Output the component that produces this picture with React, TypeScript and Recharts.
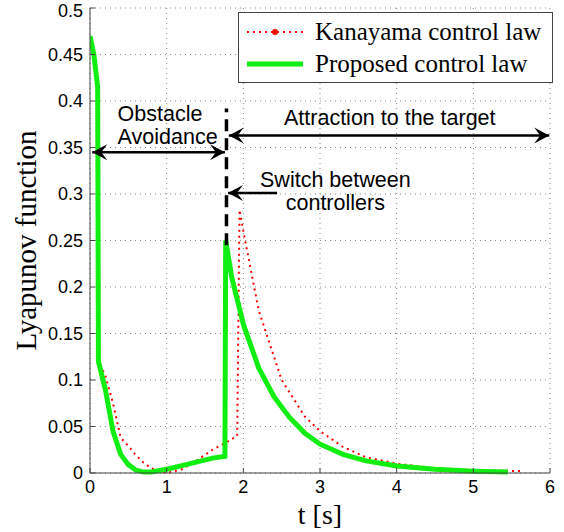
import { LineChart, Line, XAxis, YAxis, CartesianGrid, ReferenceLine, ReferenceDot } from 'recharts'

// Proposed control law, Lyapunov function vs time
const proposedT = [0, 0.05, 0.1, 0.11, 0.2, 0.3, 0.4, 0.5, 0.6, 0.7, 0.8, 1.0, 1.2, 1.4, 1.6, 1.76, 1.77, 1.85, 2.0, 2.2, 2.4, 2.6, 2.8, 3.0, 3.3, 3.6, 4.0, 4.5, 5.0, 5.45]
const proposedV = [0.47, 0.45, 0.415, 0.12, 0.09, 0.045, 0.02, 0.009, 0.003, 0.001, 0.001, 0.004, 0.008, 0.012, 0.016, 0.018, 0.25, 0.21, 0.16, 0.113, 0.082, 0.06, 0.043, 0.031, 0.02, 0.013, 0.0075, 0.004, 0.002, 0.001]

// Kanayama control law
const kanayamaT = [0, 0.05, 0.1, 0.11, 0.2, 0.3, 0.4, 0.5, 0.6, 0.7, 0.8, 0.9, 1.0, 1.2, 1.4, 1.6, 1.8, 1.92, 1.95, 2.0, 2.2, 2.5, 2.8, 3.0, 3.3, 3.6, 4.0, 4.5, 5.0, 5.65]
const kanayamaV = [0.47, 0.45, 0.415, 0.12, 0.105, 0.075, 0.038, 0.029, 0.019, 0.011, 0.005, 0.002, 0.0, 0.004, 0.014, 0.025, 0.034, 0.04, 0.283, 0.26, 0.175, 0.1, 0.061, 0.045, 0.028, 0.017, 0.01, 0.005, 0.003, 0.002]

const xTicks = [0, 1, 2, 3, 4, 5, 6]
const yTicks = [0, 0.05, 0.1, 0.15, 0.2, 0.25, 0.3, 0.35, 0.4, 0.45, 0.5]
const yTickLabels = ['0', '0.05', '0.1', '0.15', '0.2', '0.25', '0.3', '0.35', '0.4', '0.45', '0.5']

const proposed = proposedT.map((t, i) => ({ t, v: proposedV[i] }))
const kanayama = kanayamaT.map((t, i) => ({ t, v: kanayamaV[i] }))

const SWITCH_T = 1.78
const RED = '#ff0000'
const GREEN = '#11ee11'
const AXIS = '#444'
const SANS = 'Liberation Sans, Arial, sans-serif'
const SERIF = 'Liberation Serif, Times New Roman, serif'

function head(x: number, y: number, dir: number) {
  // dir = -1 points left, 1 points right
  const L = 15, H = 8, N = 9
  return `${x},${y} ${x - dir * L},${y - H} ${x - dir * N},${y} ${x - dir * L},${y + H}`
}

function Arrow(props: any) {
  const { x1, y1, x2, y2, both } = props
  const left = Math.min(x1, x2)
  const right = Math.max(x1, x2)
  return (
    <g>
      <line x1={left} y1={y1} x2={right} y2={y2} stroke="#000" strokeWidth={2.5} />
      <polygon points={head(left, y1, -1)} fill="#000" />
      {both && <polygon points={head(right, y2, 1)} fill="#000" />}
    </g>
  )
}

const note = (text: string, anchor: 'start' | 'middle') => (props: any) => (
  <text x={props.cx} y={props.cy} textAnchor={anchor} dominantBaseline="central" fontFamily={SANS} fontSize={21.5} fill="#000">
    {text}
  </text>
)

function LegendBox() {
  return (
    <div style={{ position: 'absolute', left: 238, top: 12, width: 313, height: 69, border: `1px solid ${AXIS}`, background: '#fff', fontFamily: SERIF, fontSize: 25, color: '#000' }}>
      <div style={{ display: 'flex', alignItems: 'center', height: 34, marginTop: 2 }}>
        <svg width={64} height={20} style={{ marginLeft: 6 }}>
          <line x1={2} y1={10} x2={58} y2={10} stroke={RED} strokeWidth={2} strokeDasharray="2 4" />
          <circle cx={30} cy={10} r={3} fill={RED} />
        </svg>
        <span style={{ marginLeft: 6 }}>Kanayama control law</span>
      </div>
      <div style={{ display: 'flex', alignItems: 'center', height: 30 }}>
        <svg width={64} height={20} style={{ marginLeft: 6 }}>
          <line x1={2} y1={10} x2={58} y2={10} stroke={GREEN} strokeWidth={5} />
        </svg>
        <span style={{ marginLeft: 6 }}>Proposed control law</span>
      </div>
    </div>
  )
}

export default function App() {
  return (
    <div style={{ position: 'absolute', left: 0, top: 0, width: 564, height: 532, background: '#fff' }}>
      <LineChart width={564} height={532} margin={{ top: 8, right: 14, bottom: 0, left: 0 }}>
        <CartesianGrid stroke="#888" strokeDasharray="1 4" />
        <XAxis
          dataKey="t"
          type="number"
          domain={[0, 6]}
          ticks={xTicks}
          allowDataOverflow
          height={59}
          stroke={AXIS}
          tickSize={-5}
          tickMargin={12}
          tick={{ fill: '#000', fontSize: 18, fontFamily: SANS }}
          label={{ value: 't [s]', position: 'insideBottom', offset: 8, fill: '#000', fontSize: 28, fontFamily: SERIF }}
        />
        <XAxis xAxisId="top" orientation="top" type="number" domain={[0, 6]} ticks={xTicks} height={0} stroke={AXIS} tickSize={-5} tickFormatter={() => ''} />
        <YAxis
          type="number"
          domain={[0, 0.5]}
          ticks={yTicks}
          width={90}
          stroke={AXIS}
          tickSize={-5}
          tickMargin={12}
          tickFormatter={(v: number) => yTickLabels[yTicks.indexOf(v)] ?? String(v)}
          tick={{ fill: '#000', fontSize: 18, fontFamily: SANS }}
          label={{ value: 'Lyapunov function', angle: -90, position: 'insideLeft', offset: 26, fill: '#000', fontSize: 29, fontFamily: SERIF, style: { textAnchor: 'middle' } }}
        />
        <YAxis yAxisId="right" orientation="right" type="number" domain={[0, 0.5]} ticks={yTicks} width={0} stroke={AXIS} tickSize={-5} tickFormatter={() => ''} />

        <Line data={kanayama} dataKey="v" stroke={RED} strokeWidth={2} strokeDasharray="2 4" dot={false} isAnimationActive={false} />
        <Line data={proposed} dataKey="v" stroke={GREEN} strokeWidth={5} dot={false} isAnimationActive={false} />

        <ReferenceLine segment={[{ x: SWITCH_T, y: 0.245 }, { x: SWITCH_T, y: 0.392 }]} stroke="#000" strokeWidth={3.5} strokeDasharray="12 7" />
        <ReferenceLine segment={[{ x: 0.03, y: 0.345 }, { x: 1.76, y: 0.345 }]} shape={(p: any) => <Arrow {...p} both />} />
        <ReferenceLine segment={[{ x: 1.81, y: 0.363 }, { x: 5.99, y: 0.363 }]} shape={(p: any) => <Arrow {...p} both />} />
        <ReferenceLine segment={[{ x: 1.8, y: 0.301 }, { x: 2.44, y: 0.301 }]} shape={(p: any) => <Arrow {...p} />} />

        <ReferenceDot x={0.36} y={0.386} r={0} shape={note('Obstacle', 'start')} />
        <ReferenceDot x={0.36} y={0.361} r={0} shape={note('Avoidance', 'start')} />
        <ReferenceDot x={3.91} y={0.382} r={0} shape={note('Attraction to the target', 'middle')} />
        <ReferenceDot x={3.2} y={0.315} r={0} shape={note('Switch between', 'middle')} />
        <ReferenceDot x={3.2} y={0.29} r={0} shape={note('controllers', 'middle')} />
      </LineChart>
      <LegendBox />
    </div>
  )
}
